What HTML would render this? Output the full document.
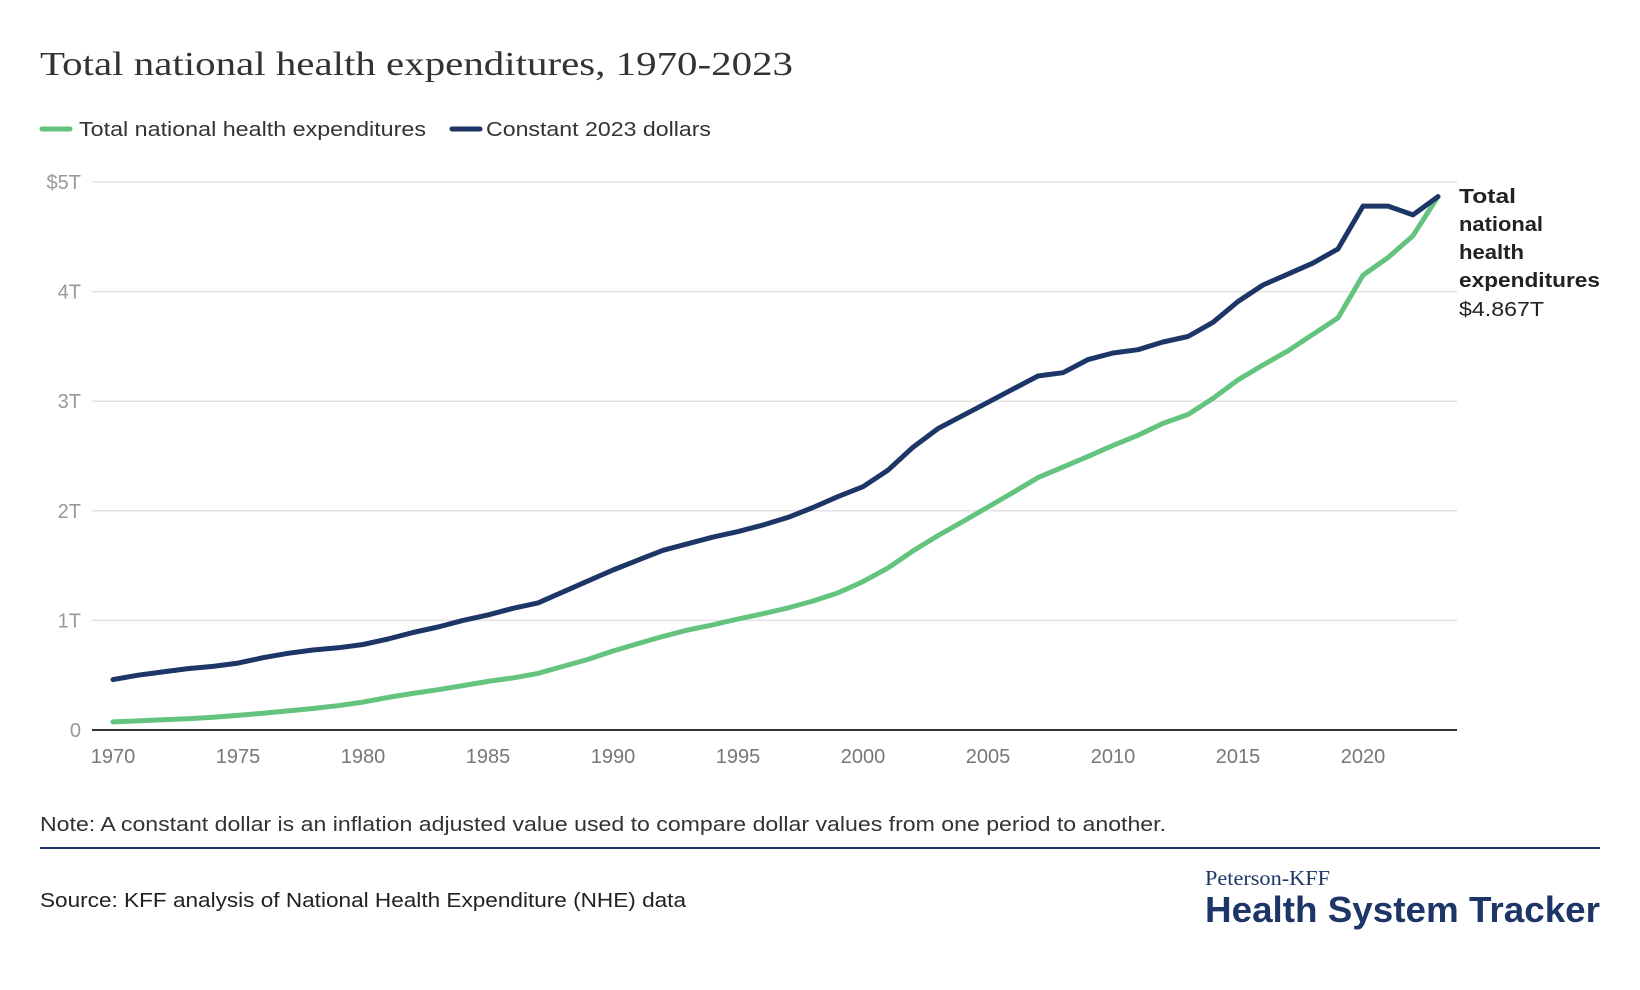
<!DOCTYPE html>
<html><head><meta charset="utf-8"><style>
body{margin:0;background:#fff;width:1640px;height:990px;overflow:hidden;font-family:"Liberation Sans",sans-serif;}
svg{display:block}
</style></head><body>
<svg width="1640" height="990" id="chart">
<text x="40" y="75" font-family="Liberation Serif,serif" font-size="34" fill="#333" textLength="753" lengthAdjust="spacingAndGlyphs">Total national health expenditures, 1970-2023</text>
<g>
<line x1="42" y1="129" x2="70" y2="129" stroke="#64c47f" stroke-width="5" stroke-linecap="round"/>
<text x="79" y="136" font-size="20" fill="#333" textLength="347" lengthAdjust="spacingAndGlyphs">Total national health expenditures</text>
<line x1="452" y1="129" x2="480" y2="129" stroke="#1d3667" stroke-width="5" stroke-linecap="round"/>
<text x="486" y="136" font-size="20" fill="#333" textLength="225" lengthAdjust="spacingAndGlyphs">Constant 2023 dollars</text>
</g>
<g id="grid"></g><g id="xaxis"></g><g id="lines"></g>
<g font-size="20" fill="#222">
<text x="1459" y="203" font-weight="bold" textLength="57" lengthAdjust="spacingAndGlyphs">Total</text>
<text x="1459" y="231" font-weight="bold" textLength="84" lengthAdjust="spacingAndGlyphs">national</text>
<text x="1459" y="259" font-weight="bold" textLength="65" lengthAdjust="spacingAndGlyphs">health</text>
<text x="1459" y="287" font-weight="bold" textLength="141" lengthAdjust="spacingAndGlyphs">expenditures</text>
<text x="1459" y="316" textLength="85" lengthAdjust="spacingAndGlyphs">$4.867T</text>
</g>
<text x="40" y="831" font-size="20" fill="#333" textLength="1126" lengthAdjust="spacingAndGlyphs">Note: A constant dollar is an inflation adjusted value used to compare dollar values from one period to another.</text>
<line x1="40" y1="848" x2="1600" y2="848" stroke="#1d3667" stroke-width="2"/>
<text x="40" y="907" font-size="20" fill="#222" textLength="646" lengthAdjust="spacingAndGlyphs">Source: KFF analysis of National Health Expenditure (NHE) data</text>
<text x="1205" y="885" font-family="Liberation Serif,serif" font-size="21" fill="#1d3667" textLength="125" lengthAdjust="spacingAndGlyphs">Peterson-KFF</text>
<text x="1205" y="922" font-size="36" font-weight="bold" fill="#1d3667" textLength="395" lengthAdjust="spacingAndGlyphs">Health System Tracker</text>
</svg>
<script>
const years=[];for(let y=1970;y<=2023;y++)years.push(y);
const nominal=[0.074,0.083,0.094,0.103,0.117,0.133,0.153,0.174,0.196,0.222,0.255,0.297,0.334,0.368,0.405,0.443,0.475,0.516,0.58,0.644,0.721,0.788,0.854,0.913,0.96,1.013,1.061,1.114,1.177,1.251,1.354,1.479,1.634,1.774,1.902,2.035,2.167,2.303,2.399,2.496,2.597,2.689,2.797,2.879,3.026,3.194,3.33,3.46,3.61,3.76,4.15,4.31,4.51,4.867];
const constant=[0.46,0.5,0.53,0.56,0.58,0.61,0.66,0.7,0.73,0.75,0.78,0.83,0.89,0.94,1.0,1.05,1.11,1.16,1.26,1.36,1.46,1.55,1.64,1.7,1.76,1.81,1.87,1.94,2.03,2.13,2.22,2.37,2.58,2.75,2.87,2.99,3.11,3.23,3.26,3.38,3.44,3.47,3.54,3.59,3.72,3.91,4.06,4.16,4.26,4.39,4.78,4.78,4.7,4.867];
const yTicks=[0,1,2,3,4,5];
const yTickLabels=["0","1T","2T","3T","4T","$5T"];
const xTicks=[1970,1975,1980,1985,1990,1995,2000,2005,2010,2015,2020];
const NS="http://www.w3.org/2000/svg";
const X0=92,X1=1457,Y0=730,Y5=182;
function xs(y){return 113+(y-1970)*(1438-113)/53;}
function ys(v){return Y0-v*(Y0-Y5)/5;}
function mk(t,a,p){const e=document.createElementNS(NS,t);for(const k in a)e.setAttribute(k,a[k]);p.appendChild(e);return e;}
const grid=document.getElementById('grid');
yTicks.forEach((v,i)=>{
 if(v>0){const l=mk('line',{x1:X0,x2:X1,y1:ys(v),y2:ys(v),stroke:'#e3e3e3','stroke-width':1.5},grid);
 
 }
 const t=mk('text',{x:81,y:ys(v)+7,'text-anchor':'end','font-size':20,fill:'#999'},grid);t.textContent=yTickLabels[i];
 
 
});
const xa=document.getElementById('xaxis');
const ax=mk('line',{x1:X0,x2:X1,y1:Y0,y2:Y0,stroke:'#333','stroke-width':2},xa);


xTicks.forEach(y=>{const t=mk('text',{x:xs(y),y:763,'text-anchor':'middle','font-size':20,fill:'#777'},xa);t.textContent=y;
 
 });
const lg=document.getElementById('lines');
function line(vals,color,name){const d=vals.map((v,i)=>(i?'L':'M')+xs(years[i]).toFixed(1)+','+ys(v).toFixed(1)).join('');
 const p=mk('path',{d:d,fill:'none',stroke:color,'stroke-width':5,'stroke-linejoin':'round','stroke-linecap':'round'},lg);
 
 }
line(nominal,'#64c47f','line-nominal');
line(constant,'#1d3667','line-constant-dollars');
</script>
</body></html>
